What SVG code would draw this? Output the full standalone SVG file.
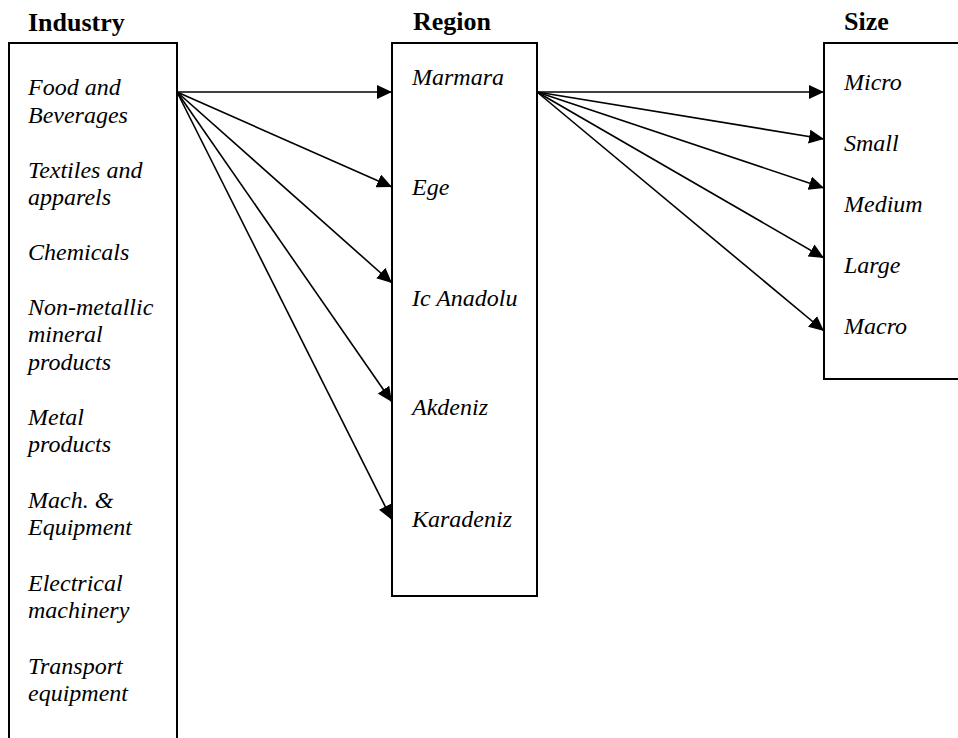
<svg xmlns="http://www.w3.org/2000/svg" width="958" height="738" viewBox="0 0 958 738">
<style>
.box{fill:#fff;stroke:#000;stroke-width:2}
.hd{font-family:"Liberation Serif","Times New Roman",serif;font-weight:bold;font-size:26px;fill:#000}
.it{font-family:"Liberation Serif","Times New Roman",serif;font-style:italic;font-size:24px;fill:#000}
.ln{stroke:#000;stroke-width:1.6;fill:none;marker-end:url(#ah)}
</style>
<defs>
<marker id="ah" markerUnits="userSpaceOnUse" markerWidth="16" markerHeight="14" refX="15" refY="7" orient="auto">
<path d="M0,0 L15,7 L0,14 z" fill="#000"/>
</marker>
</defs>
<rect width="958" height="738" fill="#fff"/>
<g id="industry">
<text class="hd" x="28" y="31">Industry</text>
<rect class="box" x="9" y="43" width="168" height="720"/>
<text class="it" x="28" y="95">Food and</text>
<text class="it" x="28" y="122.5">Beverages</text>
<text class="it" x="28" y="177.5">Textiles and</text>
<text class="it" x="28" y="205">apparels</text>
<text class="it" x="28" y="260">Chemicals</text>
<text class="it" x="28" y="315">Non-metallic</text>
<text class="it" x="28" y="342">mineral</text>
<text class="it" x="28" y="369.5">products</text>
<text class="it" x="28" y="425">Metal</text>
<text class="it" x="28" y="452">products</text>
<text class="it" x="28" y="508">Mach. &amp;</text>
<text class="it" x="28" y="535">Equipment</text>
<text class="it" x="28" y="591">Electrical</text>
<text class="it" x="28" y="618">machinery</text>
<text class="it" x="28" y="674">Transport</text>
<text class="it" x="28" y="701">equipment</text>
</g>
<g id="region">
<text class="hd" x="413" y="30">Region</text>
<rect class="box" x="392" y="43" width="145" height="553"/>
<text class="it" x="412" y="85">Marmara</text>
<text class="it" x="412" y="195">Ege</text>
<text class="it" x="412" y="306">Ic Anadolu</text>
<text class="it" x="412" y="415">Akdeniz</text>
<text class="it" x="412" y="527">Karadeniz</text>
</g>
<g id="size">
<text class="hd" x="844" y="30">Size</text>
<rect class="box" x="824" y="43" width="150" height="336"/>
<text class="it" x="844" y="90">Micro</text>
<text class="it" x="844" y="151">Small</text>
<text class="it" x="844" y="212">Medium</text>
<text class="it" x="844" y="273">Large</text>
<text class="it" x="844" y="334">Macro</text>
</g>
<g id="connectors">
<line class="ln" x1="177" y1="92" x2="392" y2="92"/>
<line class="ln" x1="177" y1="92" x2="392" y2="187"/>
<line class="ln" x1="177" y1="92" x2="392" y2="283"/>
<line class="ln" x1="177" y1="92" x2="392" y2="402"/>
<line class="ln" x1="177" y1="92" x2="392" y2="520"/>
<line class="ln" x1="537" y1="92" x2="824" y2="92"/>
<line class="ln" x1="537" y1="92" x2="824" y2="139"/>
<line class="ln" x1="537" y1="92" x2="824" y2="188"/>
<line class="ln" x1="537" y1="92" x2="824" y2="258"/>
<line class="ln" x1="537" y1="92" x2="824" y2="331"/>
</g>
</svg>
